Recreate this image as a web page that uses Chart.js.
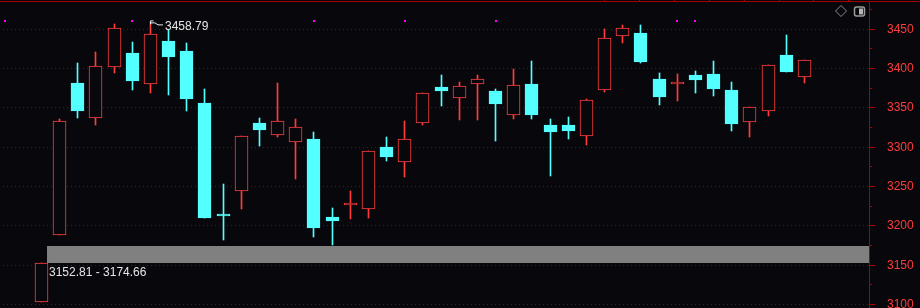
<!DOCTYPE html>
<html>
<head>
<meta charset="utf-8">
<script src="https://cdn.jsdelivr.net/npm/chart.js@4.4.1/dist/chart.umd.min.js"></script>
<style>
  html, body { margin: 0; padding: 0; background: #08080c; overflow: hidden; }
  canvas { display: block; }
</style>
</head>
<body>
<canvas id="kline" width="920" height="308"></canvas>
<script>
// daily candles (index 0 = leftmost)
const opens  = [3103.4, 3187.8, 3381.7, 3337.5, 3402.4, 3419.8, 3380.0, 3435.1, 3422.4, 3356.2,
                3215.5, 3243.8, 3330.7, 3315.1, 3306.2, 3310.4, 3211.1, 3226.0, 3221.7, 3300.2,
                3280.7, 3331.1, 3376.2, 3362.9, 3380.8, 3371.9, 3341.3, 3380.4, 3328.2, 3328.2,
                3314.6, 3373.1, 3441.9, 3445.3, 3386.7, 3379.8, 3391.8, 3393.1, 3372.7, 3332.4,
                3346.4, 3417.3, 3389.7];
const highs  = [3152.81, 3335.8, 3407.1, 3421.1, 3456.7, 3433.8, 3458.79, 3449.0, 3432.6, 3374.0,
                3253.1, 3313.8, 3337.1, 3381.7, 3335.8, 3319.3, 3222.6, 3244.2, 3294.7, 3312.9,
                3333.3, 3368.5, 3391.8, 3382.9, 3391.8, 3374.0, 3399.5, 3409.7, 3335.8, 3338.4,
                3361.3, 3450.0, 3455.5, 3455.5, 3394.4, 3393.1, 3396.9, 3409.7, 3382.9, 3351.1,
                3404.2, 3442.7, 3410.9];
const lows   = [3103.4, 3187.8, 3337.5, 3328.6, 3394.8, 3373.1, 3369.3, 3366.4, 3346.4, 3209.5,
                3182.2, 3221.7, 3301.9, 3312.6, 3259.1, 3186.0, 3175.9, 3208.9, 3210.2, 3282.8,
                3262.4, 3328.6, 3352.8, 3334.6, 3334.6, 3307.8, 3336.2, 3336.2, 3263.7, 3310.8,
                3303.1, 3370.6, 3432.9, 3407.1, 3353.7, 3358.7, 3368.9, 3365.1, 3320.6, 3312.9,
                3340.0, 3395.7, 3382.0];
const closes = [3152.81, 3332.9, 3346.4, 3402.9, 3451.3, 3384.6, 3443.6, 3415.1, 3361.7, 3210.2,
                3213.0, 3313.8, 3322.2, 3332.9, 3325.3, 3197.5, 3206.4, 3228.5, 3294.7, 3287.9,
                3310.0, 3368.5, 3371.9, 3377.5, 3386.4, 3355.3, 3378.7, 3341.3, 3319.7, 3321.0,
                3359.6, 3438.6, 3451.7, 3408.4, 3363.8, 3382.3, 3385.9, 3374.0, 3329.5, 3351.1,
                3404.2, 3395.7, 3410.9];

// price axis
const priceTicks = [3100, 3150, 3200, 3250, 3300, 3350, 3400, 3450];
const minorTicks = [3125, 3175, 3225, 3275, 3325, 3375, 3425, 3475];

// little magenta flags above some candles
const markIdx = [-2, 5, 15, 20, 25, 35, 36];
const markLevel = 3460.6;

// unfilled gap (after candle gapAfter)
const gapAfter = 0;
const gapLow = 3152.81;
const gapHigh = 3174.66;

// visible range
const viewFrom = -2.285, viewTo = 45.56;
const yMin = 3095.3, yMax = 3486.0;

const BG = '#08080c';
const RED = '#ff3c3c';
const CYAN = '#54ffff';
const AXIS = '#a80000';
const GRID = '#8a0000';
const TXT = '#e6e6e6';
const BODY_W = 13;
const FONT = '12px "Liberation Sans", Arial, sans-serif';

const idx = opens.map((_, i) => i);
const isUp = i => closes[i] >= opens[i];

const chrome = {
  id: 'chrome',
  beforeDraw(chart) {
    const c = chart.ctx;
    c.save();
    c.fillStyle = BG;
    c.fillRect(0, 0, chart.width, chart.height);
    c.restore();
  },
  afterDatasetsUpdate(chart) {
    // snap to whole pixels like the terminal does
    chart.data.datasets.forEach((ds, di) => {
      const meta = chart.getDatasetMeta(di);
      meta.data.forEach(el => {
        if (meta.type === 'bar') {
          el.x = Math.round(el.x - 0.5) + 0.5;
          el.y = Math.round(el.y);
          el.base = Math.round(el.base);
          if (el.base === el.y) el.y -= 1;
        } else {
          el.x = Math.round(el.x);
          el.y = Math.round(el.y);
        }
      });
    });
  },
  beforeDatasetsDraw(chart) {
    const {ctx, chartArea, scales: {x, y}} = chart;
    const left = Math.round(x.getPixelForValue(gapAfter) + BODY_W / 2) - 1;
    const top = Math.round(y.getPixelForValue(gapHigh));
    const bot = Math.round(y.getPixelForValue(gapLow));
    ctx.save();
    ctx.fillStyle = '#808080';
    ctx.fillRect(left, top, chartArea.right - left, bot - top);
    ctx.restore();
  },
  afterDraw(chart) {
    const {ctx, chartArea, scales: {x, y}} = chart;
    ctx.save();
    // top rule with its small ticks
    ctx.fillStyle = AXIS;
    ctx.fillRect(0, 1, chart.width, 1);
    for (let k = 0; k < 8; k++) ctx.fillRect(Math.round(604 + k * 34.9), 0, 1, 1);
    // minor ticks on the price axis
    minorTicks.forEach(v => {
      ctx.fillRect(chartArea.right, Math.round(y.getPixelForValue(v) - 0.5), 3, 1);
    });

    ctx.font = FONT;
    ctx.textAlign = 'left';
    ctx.textBaseline = 'middle';

    // price labels
    ctx.fillStyle = '#ff3b3b';
    priceTicks.forEach(v => {
      ctx.fillText(String(v), chartArea.right + 18, Math.round(y.getPixelForValue(v) - 0.5) + 1);
    });

    ctx.fillStyle = TXT;
    // gap label
    const left = Math.round(x.getPixelForValue(gapAfter) + BODY_W / 2) - 1;
    const bot = Math.round(y.getPixelForValue(gapLow));
    ctx.fillText(gapLow.toFixed(2) + ' - ' + gapHigh.toFixed(2), left + 2, bot + 10);

    // highest high
    let hi = 0;
    highs.forEach((h, i) => { if (h > highs[hi]) hi = i; });
    const hx = Math.round(x.getPixelForValue(hi) - 0.5);
    const hy = y.getPixelForValue(highs[hi]);
    ctx.fillText(highs[hi].toFixed(2), hx + 15, hy + 4.6);
    ctx.strokeStyle = TXT;
    ctx.lineWidth = 1;
    ctx.beginPath();
    ctx.moveTo(hx + 0.5, hy + 2);
    ctx.lineTo(hx + 0.5, hy - 1.5);
    ctx.lineTo(hx + 3.5, hy - 1.5);
    ctx.moveTo(hx + 1, hy + 0.5);
    ctx.lineTo(hx + 5, hy + 0.5);
    ctx.lineTo(hx + 8, hy + 2.5);
    ctx.lineTo(hx + 13, hy + 2.5);
    ctx.stroke();

    // the two small buttons top right
    ctx.strokeStyle = '#8a8a8a';
    ctx.beginPath();
    ctx.moveTo(841, 5.5); ctx.lineTo(846.5, 11); ctx.lineTo(841, 16.5); ctx.lineTo(835.5, 11);
    ctx.closePath();
    ctx.stroke();
    ctx.strokeStyle = '#9c9c9c';
    ctx.lineWidth = 1.5;
    ctx.beginPath();
    ctx.roundRect(854.5, 7, 10, 9, 2);
    ctx.stroke();
    ctx.fillStyle = '#b4b4b4';
    ctx.fillRect(859, 8.5, 4, 6);
    ctx.restore();
  }
};

new Chart(document.getElementById('kline'), {
  type: 'bar',
  data: {
    datasets: [
      {
        label: 'flags',
        type: 'scatter',
        data: markIdx.map(i => ({x: i, y: markLevel})),
        pointStyle: 'rect',
        pointRadius: 1.42,
        backgroundColor: '#ff00ff',
        borderWidth: 0,
        order: -1
      },
      {
        label: 'body',
        data: idx.map(i => ({x: i, y: [opens[i], closes[i]]})),
        backgroundColor: idx.map(i => isUp(i) ? BG : CYAN),
        borderColor: idx.map(i => isUp(i) ? RED : CYAN),
        borderWidth: 1,
        borderSkipped: false,
        barThickness: BODY_W,
        grouped: false,
        order: 0
      },
      {
        label: 'wick',
        data: idx.map(i => ({x: i, y: [lows[i], highs[i]]})),
        backgroundColor: idx.map(i => isUp(i) ? RED : CYAN),
        borderWidth: 0,
        barThickness: 1,
        grouped: false,
        order: 1
      }
    ]
  },
  options: {
    responsive: false,
    animation: false,
    events: [],
    layout: { autoPadding: false, padding: { top: 1, left: 0, right: 0, bottom: 0 } },
    plugins: { legend: { display: false }, tooltip: { enabled: false } },
    scales: {
      x: { type: 'linear', display: false, min: viewFrom, max: viewTo, bounds: 'data', offset: false },
      y: {
        type: 'linear',
        position: 'right',
        min: yMin,
        max: yMax,
        bounds: 'data',
        afterBuildTicks: s => { s.ticks = priceTicks.map(v => ({value: v})); },
        afterFit: s => { s.width = 51; },
        ticks: { display: false },
        grid: { color: GRID, lineWidth: 1, tickLength: 6, tickColor: AXIS, offset: false },
        border: { color: AXIS, width: 1, dash: [1, 3], dashOffset: 1 }
      }
    }
  },
  plugins: [chrome]
});
</script>
</body>
</html>
